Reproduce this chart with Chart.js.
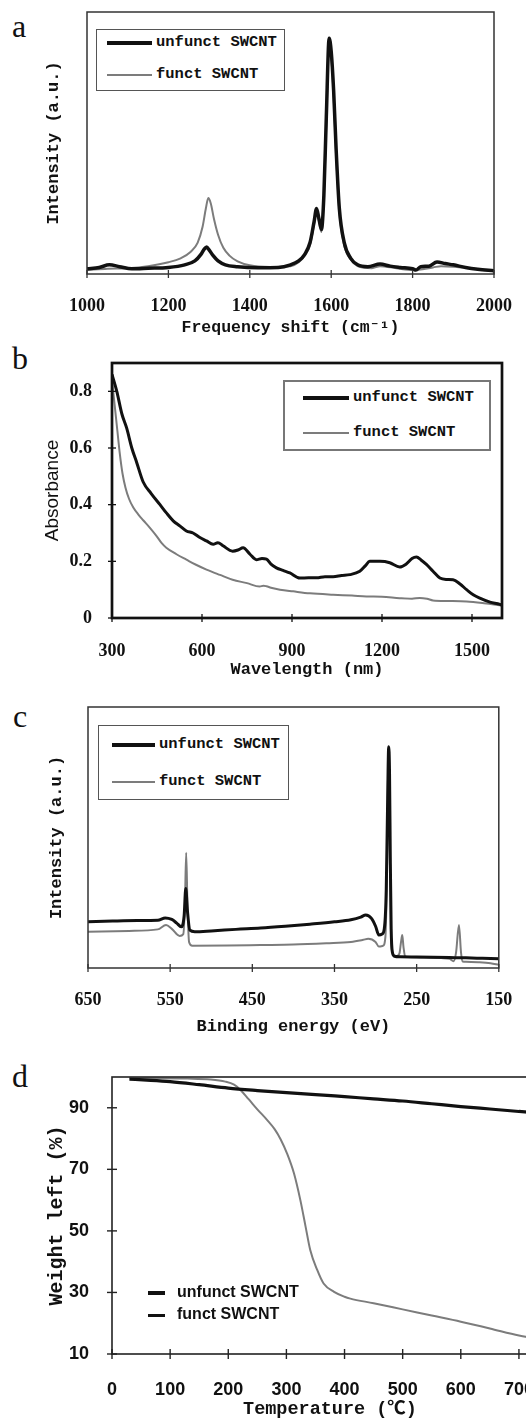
<!DOCTYPE html>
<html>
<head>
<meta charset="utf-8">
<script src="https://cdn.jsdelivr.net/npm/chart.js@4.4.1/dist/chart.umd.min.js"></script>
<style>
  html, body { margin: 0; padding: 0; background: #fff; }
  body { width: 526px; height: 1419px; overflow: hidden; position: relative; }
  canvas { position: absolute; left: 0; }
  .tag { position: absolute; font-family: 'Liberation Serif', serif; font-size: 32px; line-height: 1; color: #111; }
  .legend { position: absolute; background: #fff; box-sizing: border-box; }
  .line { position: absolute; }
  .ltext { position: absolute; height: 20px; line-height: 20px; white-space: nowrap; color: #111; }
</style>
</head>
<body>
<div class="tag" style="left:12px;top:10px">a</div>
<div class="tag" style="left:12px;top:342px">b</div>
<div class="tag" style="left:13px;top:700px">c</div>
<div class="tag" style="left:12px;top:1060px">d</div>
<canvas id="ramanChart" width="526" height="350" style="top:0px"></canvas>
<canvas id="uvChart" width="526" height="355" style="top:330px"></canvas>
<canvas id="xpsChart" width="526" height="350" style="top:690px"></canvas>
<canvas id="tgaChart" width="560" height="400" style="top:1040px"></canvas>
<div id="legends"></div>
<script>
// series names (same for all four panels)
const seriesNames = ['unfunct SWCNT', 'funct SWCNT'];

// (a) Raman spectra
const ramanUnfunctX = [1000,1030,1055,1080,1110,1150,1200,1240,1265,1280,1288,1294,1300,1310,1322,1340,1370,1420,1470,1500,1520,1535,1548,1558,1564,1570,1576,1582,1588,1595,1600,1606,1612,1620,1632,1648,1665,1690,1720,1745,1770,1800,1808,1820,1840,1860,1880,1900,1930,1960,2000];
const ramanUnfunctY = [0.02,0.025,0.035,0.028,0.02,0.022,0.025,0.035,0.05,0.075,0.095,0.103,0.092,0.07,0.05,0.035,0.028,0.024,0.025,0.035,0.05,0.075,0.12,0.2,0.25,0.21,0.17,0.3,0.6,0.9,0.85,0.7,0.48,0.25,0.12,0.06,0.035,0.028,0.038,0.03,0.025,0.02,0.015,0.028,0.03,0.046,0.04,0.035,0.025,0.018,0.012];
const ramanFunctX = [1000,1050,1100,1150,1200,1230,1255,1272,1284,1292,1298,1304,1312,1322,1335,1350,1370,1400,1450,1500,1520,1535,1548,1558,1564,1570,1576,1582,1588,1595,1600,1606,1612,1620,1632,1648,1665,1700,1720,1760,1800,1850,1870,1900,1950,2000];
const ramanFunctY = [0.015,0.02,0.022,0.03,0.045,0.06,0.085,0.12,0.18,0.25,0.29,0.27,0.21,0.15,0.1,0.07,0.048,0.033,0.027,0.03,0.045,0.07,0.11,0.19,0.24,0.2,0.16,0.29,0.58,0.88,0.83,0.68,0.46,0.24,0.11,0.055,0.03,0.022,0.03,0.022,0.015,0.025,0.03,0.028,0.02,0.01];
const ramanTicks = [1000,1200,1400,1600,1800,2000];

// (b) UV-vis absorbance
const uvUnfunctX = [300,316,333,349,366,382,404,430,460,482,504,526,548,570,593,615,637,653,670,702,720,737,760,781,800,815,830,848,870,893,926,955,982,1010,1037,1065,1093,1126,1145,1159,1176,1193,1226,1259,1280,1300,1315,1330,1348,1370,1393,1415,1437,1460,1482,1504,1526,1560,1593,1600];
const uvUnfunctY = [0.86,0.8,0.72,0.67,0.6,0.55,0.48,0.44,0.4,0.37,0.343,0.325,0.307,0.3,0.284,0.272,0.26,0.266,0.255,0.236,0.24,0.248,0.225,0.206,0.21,0.208,0.19,0.177,0.168,0.159,0.141,0.142,0.142,0.146,0.146,0.15,0.153,0.165,0.185,0.2,0.2,0.2,0.195,0.18,0.19,0.21,0.215,0.205,0.189,0.165,0.141,0.136,0.135,0.12,0.1,0.082,0.07,0.056,0.048,0.045];
const uvFunctX = [300,310,318,326,335,345,357,371,388,404,425,448,465,481,515,548,580,615,660,702,750,792,805,815,830,860,904,960,1037,1100,1148,1200,1259,1300,1326,1350,1370,1420,1482,1540,1600];
const uvFunctY = [0.84,0.74,0.66,0.58,0.51,0.46,0.42,0.39,0.365,0.345,0.32,0.29,0.265,0.248,0.225,0.206,0.188,0.171,0.152,0.135,0.123,0.111,0.114,0.112,0.107,0.1,0.094,0.087,0.082,0.079,0.076,0.075,0.07,0.068,0.071,0.068,0.062,0.06,0.058,0.052,0.044];
const uvXTicks = [300,600,900,1200,1500];
const uvYTicks = [0,0.2,0.4,0.6,0.8];

// (c) XPS survey
const xpsUnfunctX = [650,620,590,565,556,548,542,536.5,533,531,529,526,520,500,470,440,410,380,350,330,318,312,305,300,296,292,289,287,285.5,284,283,282,281,279.5,277,270,250,230,210,190,170,150];
const xpsUnfunctY = [0.177,0.18,0.182,0.183,0.192,0.186,0.172,0.158,0.2,0.305,0.22,0.145,0.139,0.142,0.148,0.153,0.16,0.168,0.177,0.185,0.195,0.203,0.19,0.16,0.126,0.13,0.16,0.3,0.6,0.848,0.75,0.4,0.15,0.06,0.045,0.043,0.042,0.041,0.04,0.039,0.037,0.035];
const xpsFunctX = [650,600,565,555,548,538.5,534,532,530.5,529,527,523,480,440,400,360,330,315,309,300,296,291,288,286,285,284,283,282,281,279,275,271,269,267.5,266,264,260,240,220,210,205,202,198.5,196,194,190,175,160,150];
const xpsFunctY = [0.139,0.142,0.148,0.165,0.15,0.123,0.13,0.25,0.442,0.25,0.1,0.085,0.086,0.088,0.09,0.095,0.1,0.108,0.112,0.1,0.082,0.085,0.12,0.4,0.7,0.8,0.65,0.3,0.1,0.055,0.045,0.055,0.1,0.126,0.08,0.045,0.042,0.04,0.038,0.035,0.026,0.06,0.165,0.06,0.025,0.024,0.022,0.018,0.012];
const xpsTicks = [650,550,450,350,250,150];

// (d) TGA
const tgaUnfunctX = [30,60,100,150,200,250,300,350,400,450,500,550,600,650,700,750];
const tgaUnfunctY = [99.3,99.0,98.5,97.5,96.4,95.6,94.9,94.3,93.6,92.9,92.2,91.3,90.4,89.6,88.8,88.0];
const tgaFunctX = [30,80,130,170,195,210,221,235,250,267,280,290,301,313,324,333,341,353,364,382,400,410,450,500,550,600,650,700,750];
const tgaFunctY = [99.6,99.6,99.5,99.2,98.5,97.5,95.8,92.8,89.5,86.0,83.0,79.8,75.2,68.7,60.0,51.4,43.8,37.3,32.9,30.2,28.6,28.0,26.5,24.5,22.5,20.5,18.3,16.0,14.3];
const tgaXTicks = [0,100,200,300,400,500,600,700];
const tgaYTicks = [10,30,50,70,90];

const SERIF = "'Liberation Serif', serif";
const MONO = "'Liberation Mono', 'Noto Sans CJK SC', monospace";
const SANS = "'Liberation Sans', Arial, sans-serif";
const INK = '#111';
const GRAY = '#7c7c7c';

function pts(xs, ys) {
    return xs.map((x, i) => ({ x: x, y: ys[i] }));
}

// frame round the plot area plus crossing tick marks
const framePlugin = {
    id: 'frame',
    afterDatasetsDraw(chart, args, opts) {
        const ctx = chart.ctx;
        const a = chart.chartArea;
        ctx.save();
        ctx.strokeStyle = opts.color;
        ctx.lineWidth = opts.lineWidth;
        ctx.strokeRect(a.left, a.top, a.right - a.left, a.bottom - a.top);
        ctx.lineWidth = opts.tickWidth;
        const L = opts.tickLen;
        if (opts.xTicks) {
            const s = chart.scales.x;
            s.ticks.forEach(t => {
                const px = s.getPixelForValue(t.value);
                ctx.beginPath();
                ctx.moveTo(px, a.bottom - L);
                ctx.lineTo(px, a.bottom + L);
                ctx.stroke();
            });
        }
        if (opts.yTicks) {
            const s = chart.scales.y;
            s.ticks.forEach(t => {
                const py = s.getPixelForValue(t.value);
                ctx.beginPath();
                ctx.moveTo(a.left - L, py);
                ctx.lineTo(a.left + L, py);
                ctx.stroke();
            });
        }
        ctx.restore();
    }
};

function lineSet(label, data, color, width) {
    return {
        label: label,
        data: data,
        borderColor: color,
        borderWidth: width,
        pointRadius: 0,
        fill: false,
        cubicInterpolationMode: 'monotone'
    };
}

function makeChart(id, p) {
    const canvas = document.getElementById(id);
    const H = canvas.height;
    const W = canvas.width;
    const tickList = list => (s => { s.ticks = list.map(v => ({ value: v })); });
    const x = {
        type: 'linear',
        min: p.xMin, max: p.xMax, reverse: !!p.xReverse,
        afterBuildTicks: tickList(p.xTicks),
        afterFit: s => { s.height = H - p.area.bottom; },
        grid: { display: false },
        border: { display: false },
        ticks: {
            autoSkip: false, maxRotation: 0, padding: p.xTickPad, color: INK,
            font: p.xTickFont, callback: v => String(v)
        },
        title: {
            display: true, text: p.xTitle, color: INK, font: p.xTitleFont,
            padding: { top: 0, bottom: p.xTitlePad }
        }
    };
    const y = {
        type: 'linear',
        min: p.yMin, max: p.yMax,
        afterFit: s => { s.width = p.area.left; },
        grid: { display: false },
        border: { display: false },
        ticks: p.yTicks ? {
            padding: p.yTickPad, color: INK, font: p.yTickFont,
            callback: p.yFormat || (v => String(v))
        } : { display: false },
        title: {
            display: true, text: p.yTitle, color: INK, font: p.yTitleFont,
            padding: { top: p.yTitlePad, bottom: 0 }
        }
    };
    if (p.yTicks) y.afterBuildTicks = tickList(p.yTicks);
    return new Chart(canvas, {
        type: 'line',
        data: { datasets: p.datasets },
        options: {
            responsive: false,
            animation: false,
            events: [],
            layout: { padding: { left: 0, top: p.area.top, right: W - p.area.right, bottom: 0 } },
            scales: { x: x, y: y },
            plugins: {
                legend: { display: false },
                tooltip: { enabled: false },
                frame: p.frame
            }
        },
        plugins: [framePlugin]
    });
}

makeChart('ramanChart', {
    area: { left: 87, top: 12, right: 501, bottom: 274 },
    xMin: 1000, xMax: 2000, xTicks: ramanTicks,
    yMin: 0, yMax: 1,
    xTickPad: 14, xTickFont: { family: SERIF, size: 18, weight: 'bold' },
    xTitle: 'Frequency shift (cm\u207B\u00B9)', xTitlePad: 11.8,
    xTitleFont: { family: MONO, size: 16.5, weight: 'bold' },
    yTitle: 'Intensity (a.u.)', yTitlePad: 43.3,
    yTitleFont: { family: MONO, size: 17, weight: 'bold' },
    frame: { color: '#333', lineWidth: 1.5, tickWidth: 1.3, tickLen: 4, xTicks: true, yTicks: false },
    datasets: [
        lineSet(seriesNames[0], pts(ramanUnfunctX, ramanUnfunctY), INK, 3.5),
        lineSet(seriesNames[1], pts(ramanFunctX, ramanFunctY), GRAY, 2)
    ]
});

makeChart('uvChart', {
    area: { left: 112, top: 33, right: 502, bottom: 288 },
    xMin: 300, xMax: 1600, xTicks: uvXTicks,
    yMin: 0, yMax: 0.9, yTicks: uvYTicks,
    yFormat: v => (v === 0 ? '0' : v.toFixed(1)),
    xTickPad: 14.7, xTickFont: { family: SERIF, size: 18, weight: 'bold' },
    yTickPad: 12, yTickFont: { family: SERIF, size: 18, weight: 'bold' },
    xTitle: 'Wavelength (nm)', xTitlePad: 4.8,
    xTitleFont: { family: MONO, size: 17, weight: 'bold' },
    yTitle: 'Absorbance', yTitlePad: 41,
    yTitleFont: { family: SANS, size: 19 },
    frame: { color: '#111', lineWidth: 2.7, tickWidth: 1.3, tickLen: 4, xTicks: true, yTicks: true },
    datasets: [
        lineSet(seriesNames[0], pts(uvUnfunctX, uvUnfunctY), INK, 3),
        lineSet(seriesNames[1], pts(uvFunctX, uvFunctY), GRAY, 2)
    ]
});

makeChart('xpsChart', {
    area: { left: 88, top: 17, right: 508, bottom: 278 },
    xMin: 150, xMax: 650, xReverse: true, xTicks: xpsTicks,
    yMin: 0, yMax: 1,
    xTickPad: 13.7, xTickFont: { family: SERIF, size: 18, weight: 'bold' },
    xTitle: 'Binding energy (eV)', xTitlePad: 2.8,
    xTitleFont: { family: MONO, size: 17, weight: 'bold' },
    yTitle: 'Intensity (a.u.)', yTitlePad: 46.8,
    yTitleFont: { family: MONO, size: 17, weight: 'bold' },
    frame: { color: '#333', lineWidth: 1.5, tickWidth: 1.3, tickLen: 4, xTicks: true, yTicks: false },
    datasets: [
        lineSet(seriesNames[0], pts(xpsUnfunctX, xpsUnfunctY), INK, 3),
        lineSet(seriesNames[1], pts(xpsFunctX, xpsFunctY), GRAY, 2)
    ]
});

makeChart('tgaChart', {
    area: { left: 112, top: 37, right: 548, bottom: 314 },
    xMin: 0, xMax: 750, xTicks: tgaXTicks,
    yMin: 10, yMax: 100, yTicks: tgaYTicks,
    xTickPad: 17, xTickFont: { family: SANS, size: 18, weight: 'bold' },
    yTickPad: 15, yTickFont: { family: SANS, size: 18, weight: 'bold' },
    xTitle: 'Temperature (\u2103)', xTitlePad: 19.6,
    xTitleFont: { family: MONO, size: 18.5, weight: 'bold' },
    yTitle: 'Weight left (%)', yTitlePad: 45,
    yTitleFont: { family: MONO, size: 20, weight: 'bold' },
    frame: { color: '#222', lineWidth: 1.6, tickWidth: 1.4, tickLen: 5, xTicks: true, yTicks: true },
    datasets: [
        lineSet(seriesNames[0], pts(tgaUnfunctX, tgaUnfunctY), INK, 3.2),
        lineSet(seriesNames[1], pts(tgaFunctX, tgaFunctY), GRAY, 2)
    ]
});

// HTML legends placed inside the plot areas
function addLegend(box, rows, textFont) {
    const host = document.getElementById('legends');
    if (box) {
        const b = document.createElement('div');
        b.className = 'legend';
        b.style.cssText = `left:${box.x}px;top:${box.y}px;width:${box.w}px;height:${box.h}px;border:${box.border}px solid ${box.color}`;
        host.appendChild(b);
    }
    rows.forEach((r, i) => {
        const ln = document.createElement('div');
        ln.className = 'line';
        ln.style.cssText = `left:${r.x1}px;top:${r.y - r.w / 2}px;width:${r.x2 - r.x1}px;height:${r.w}px;background:${r.color}`;
        host.appendChild(ln);
        const tx = document.createElement('div');
        tx.className = 'ltext';
        tx.style.cssText = `left:${r.tx}px;top:${r.y - 10}px;font:${textFont}`;
        tx.textContent = seriesNames[i];
        host.appendChild(tx);
    });
}

const legendFont = "bold 15.5px " + MONO;
addLegend({ x: 96, y: 29, w: 189, h: 62, border: 1.5, color: '#555' }, [
    { x1: 107, x2: 152, y: 43, w: 4, color: INK, tx: 156 },
    { x1: 107, x2: 152, y: 75, w: 2, color: GRAY, tx: 156 }
], legendFont);
addLegend({ x: 283, y: 380, w: 208, h: 71, border: 2, color: '#777' }, [
    { x1: 303, x2: 349, y: 398, w: 3.5, color: INK, tx: 353 },
    { x1: 303, x2: 349, y: 433, w: 2, color: GRAY, tx: 353 }
], legendFont);
addLegend({ x: 98, y: 725, w: 191, h: 75, border: 1.5, color: '#555' }, [
    { x1: 112, x2: 155, y: 745, w: 4, color: INK, tx: 159 },
    { x1: 112, x2: 155, y: 782, w: 2, color: GRAY, tx: 159 }
], legendFont);
addLegend(null, [
    { x1: 148, x2: 165, y: 1293, w: 3.5, color: INK, tx: 177 },
    { x1: 148, x2: 165, y: 1315, w: 3, color: INK, tx: 177 }
], "bold 16px " + SANS);
</script>
</body>
</html>
